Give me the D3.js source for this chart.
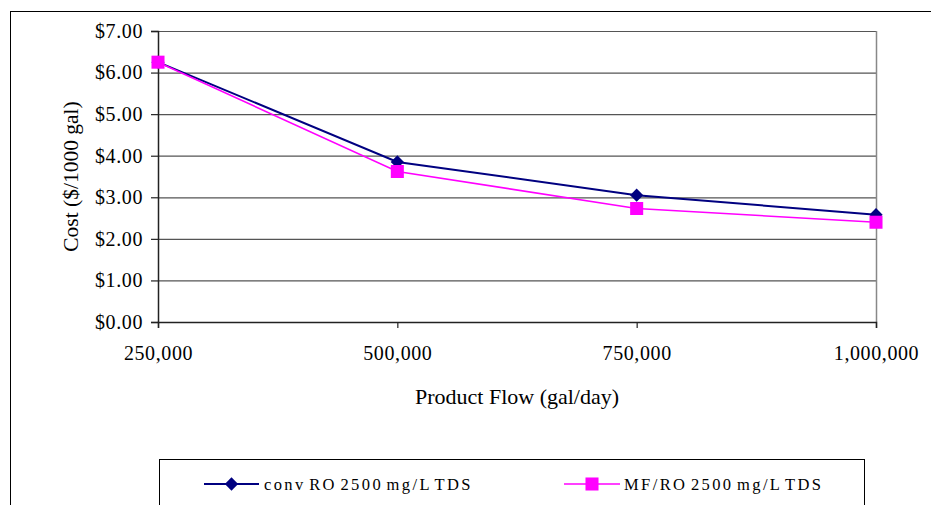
<!DOCTYPE html>
<html>
<head>
<meta charset="utf-8">
<script src="https://cdn.jsdelivr.net/npm/d3@7"></script>
<style>
  html, body { margin: 0; padding: 0; background: #fff; }
  svg { display: block; font-family: "Liberation Serif", "Times New Roman", serif; }
</style>
</head>
<body>
<svg id="chart" width="931" height="505"></svg>
<script>
// Product flow categories (gal/day)
const flows = [250000, 500000, 750000, 1000000];
const flowLabels = ["250,000", "500,000", "750,000", "1,000,000"];

// Cost ($/1000 gal)
const convRO = [6.25, 3.85, 3.05, 2.58];
const mfRO   = [6.25, 3.62, 2.73, 2.40];

const yTicks = [0, 1, 2, 3, 4, 5, 6, 7];

const seriesNames = ["conv RO 2500 mg/L TDS", "MF/RO 2500 mg/L TDS"];
const seriesColors = ["#000080", "#FF00FF"];

const svg = d3.select("#chart");

// chart frame
svg.append("rect")
  .attr("x", 10.5).attr("y", 11.5)
  .attr("width", 940).attr("height", 520)
  .attr("fill", "none").attr("stroke", "#000").attr("stroke-width", 1);

const plot = { left: 158, right: 876, top: 31, bottom: 322 };

const x = d3.scalePoint()
  .domain(flows)
  .range([plot.left, plot.right])
  .padding(0);

const y = d3.scaleLinear()
  .domain([0, 7])
  .range([plot.bottom, plot.top]);

// horizontal gridlines
svg.append("g")
  .selectAll("line")
  .data(yTicks.filter(d => d > 0))
  .join("line")
  .attr("x1", plot.left).attr("x2", plot.right)
  .attr("y1", d => y(d) + 0.5).attr("y2", d => y(d) + 0.5)
  .attr("stroke", "#555").attr("stroke-width", 1.2);

// right border of the plot area
svg.append("line")
  .attr("x1", plot.right + 0.5).attr("x2", plot.right + 0.5)
  .attr("y1", plot.top).attr("y2", plot.bottom)
  .attr("stroke", "#888").attr("stroke-width", 1.5);

// y axis
const yAxis = d3.axisLeft(y)
  .tickValues(yTicks)
  .tickFormat(d => "$" + d3.format(".2f")(d))
  .tickSize(7)
  .tickPadding(8);

const gy = svg.append("g")
  .attr("transform", `translate(${plot.left},0)`)
  .call(yAxis);
gy.select(".domain").attr("stroke", "#222").attr("stroke-width", 1.5);
gy.selectAll(".tick line").attr("stroke", "#222").attr("stroke-width", 1.2);
gy.selectAll(".tick text")
  .attr("font-family", "Liberation Serif, serif")
  .attr("font-size", 20)
  .attr("letter-spacing", 0.6)
  .attr("fill", "#000");

// x axis
const xAxis = d3.axisBottom(x)
  .tickFormat((d, i) => flowLabels[i])
  .tickSize(6)
  .tickPadding(18);

const gx = svg.append("g")
  .attr("transform", `translate(0,${plot.bottom})`)
  .call(xAxis);
gx.select(".domain").attr("stroke", "#222").attr("stroke-width", 1.5);
gx.selectAll(".tick line").attr("stroke", "#222").attr("stroke-width", 1.2);
gx.selectAll(".tick text")
  .attr("font-family", "Liberation Serif, serif")
  .attr("font-size", 20)
  .attr("letter-spacing", 0.6)
  .attr("fill", "#000");

// axis titles
svg.append("text")
  .attr("x", (plot.left + plot.right) / 2)
  .attr("y", 404)
  .attr("text-anchor", "middle")
  .attr("font-size", 22)
  .attr("fill", "#000")
  .text("Product Flow (gal/day)");

svg.append("text")
  .attr("transform", `translate(78,${(plot.top + plot.bottom) / 2}) rotate(-90)`)
  .attr("text-anchor", "middle")
  .attr("font-size", 21.5)
  .attr("fill", "#000")
  .text("Cost ($/1000 gal)");

// series
const series = [convRO, mfRO];
const line = d3.line().x((d, i) => x(flows[i])).y(d => y(d));

// diamond marker: a square turned 45 degrees
const diamond = d3.symbol().type(d3.symbolSquare).size(88);
const square = d3.symbol().type(d3.symbolSquare).size(170);

series.forEach((vals, s) => {
  svg.append("path")
    .datum(vals)
    .attr("d", line)
    .attr("fill", "none")
    .attr("stroke", seriesColors[s])
    .attr("stroke-width", s === 0 ? 2 : 1.6);
});

svg.append("g").selectAll("path")
  .data(convRO)
  .join("path")
  .attr("transform", (d, i) => `translate(${x(flows[i])},${y(d)}) rotate(45)`)
  .attr("d", diamond)
  .attr("fill", seriesColors[0]);

svg.append("g").selectAll("path")
  .data(mfRO)
  .join("path")
  .attr("transform", (d, i) => `translate(${x(flows[i])},${y(d)})`)
  .attr("d", square)
  .attr("fill", seriesColors[1]);

// legend
const lg = svg.append("g");
lg.append("rect")
  .attr("x", 159.5).attr("y", 459.5)
  .attr("width", 705).attr("height", 80)
  .attr("fill", "#fff").attr("stroke", "#000").attr("stroke-width", 1);

const legendItems = [
  { x0: 204, x1: 259, tx: 264, sym: diamond, rot: 45 },
  { x0: 564, x1: 620, tx: 624, sym: square, rot: 0 }
];
const ly = 484;
legendItems.forEach((it, s) => {
  lg.append("line")
    .attr("x1", it.x0).attr("x2", it.x1)
    .attr("y1", ly).attr("y2", ly)
    .attr("stroke", seriesColors[s]).attr("stroke-width", s === 0 ? 2 : 1.6);
  lg.append("path")
    .attr("transform", `translate(${(it.x0 + it.x1) / 2},${ly}) rotate(${it.rot})`)
    .attr("d", it.sym)
    .attr("fill", seriesColors[s]);
  lg.append("text")
    .attr("x", it.tx).attr("y", ly + 6)
    .attr("font-size", 16.5)
    .attr("letter-spacing", 2.4)
    .attr("word-spacing", -3)
    .attr("fill", "#000")
    .text(seriesNames[s]);
});
</script>
</body>
</html>
